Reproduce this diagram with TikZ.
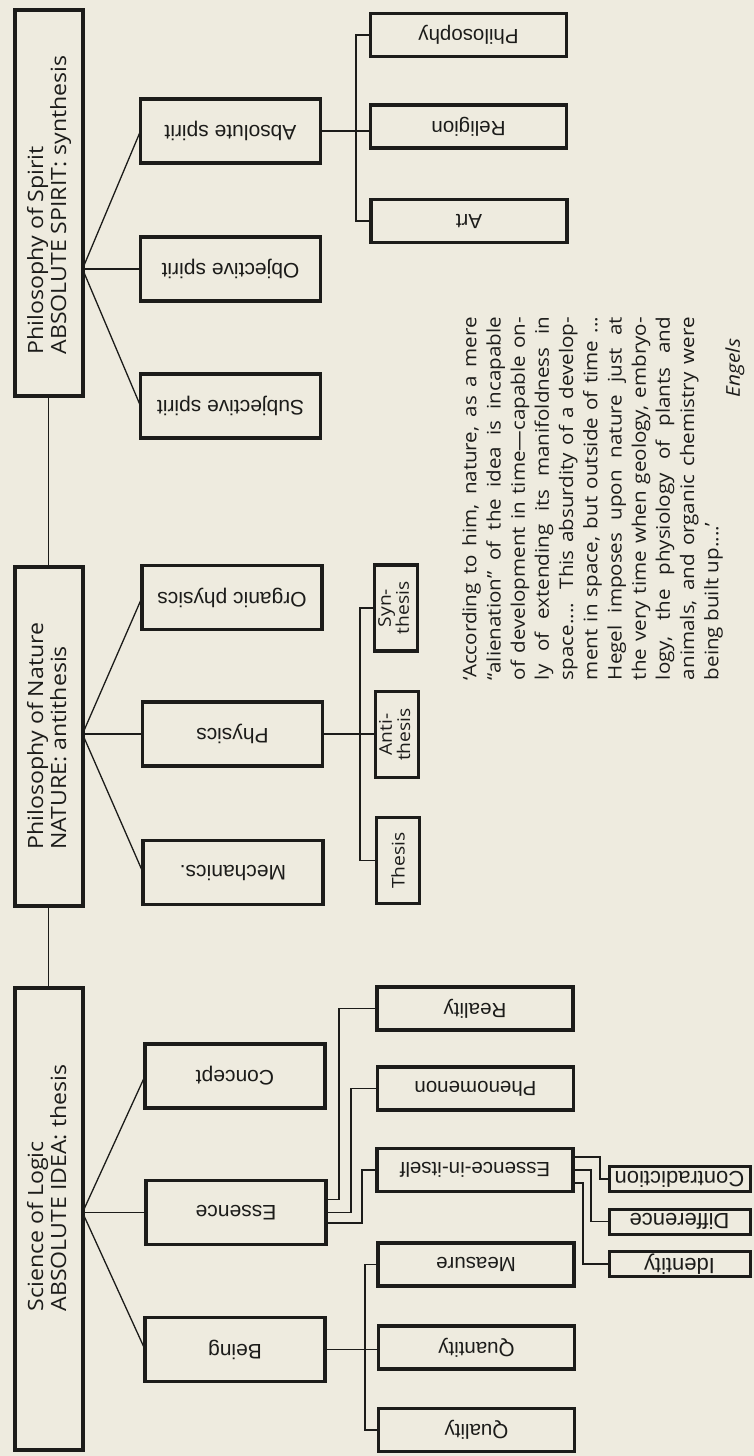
\documentclass[tikz,border=0pt]{standalone}
\usepackage{fontspec}
\usepackage{graphicx}
\setmainfont{Open Sans}[FakeStretch=1.1]
\newfontfamily\labelfont{Liberation Sans}
\definecolor{paper}{HTML}{EEEBDF}
\definecolor{ink}{HTML}{1C1C1A}

\begin{document}
\begin{tikzpicture}[x=1pt,y=-1pt,
  every node/.style={inner sep=0pt, outer sep=0pt, text=ink},
  topbox/.style={draw=ink, line width=4pt, minimum width=68pt},
  toptext/.style={font=\fontsize{21}{23}\selectfont},
  subbox/.style={draw=ink, line width=3.6pt, minimum width=180pt, minimum height=64pt,
    font=\labelfont\fontsize{21}{23}\selectfont},
  leafbox/.style={draw=ink, line width=3.4pt, minimum width=196pt, minimum height=43pt,
    font=\labelfont\fontsize{20.5}{23}\selectfont},
  triadbox/.style={draw=ink, line width=3.2pt, minimum width=43pt, minimum height=86pt,
    font=\fontsize{17.5}{16}\selectfont},
  tinybox/.style={draw=ink, line width=3pt, minimum width=141pt, minimum height=25pt,
    font=\labelfont\fontsize{22}{24}\selectfont},
  link/.style={draw=ink, line width=1.3pt},
]
% page
\fill[paper] (0,0) rectangle (754,1456);
\useasboundingbox (0,0) rectangle (754,1456);

% ---- the three main divisions ----
\node[topbox, minimum height=386pt] (spirit) at (48.5,203) {};
\node[topbox, minimum height=339pt] (nature) at (48.5,736.5) {};
\node[topbox, minimum height=462pt] (logic) at (48.5,1219) {};
\node[toptext] (spirittext) at (50,205)
  {\rotatebox{90}{\begin{tabular}{@{}l@{}}Philosophy of Spirit\\ABSOLUTE SPIRIT: synthesis\end{tabular}}};
\node[toptext] (naturetext) at (50,736)
  {\rotatebox{90}{\begin{tabular}{@{}l@{}}Philosophy of Nature\\NATURE: antithesis\end{tabular}}};
\node[toptext] (logictext) at (50,1188)
  {\rotatebox{90}{\begin{tabular}{@{}l@{}}Science of Logic\\ABSOLUTE IDEA: thesis\end{tabular}}};

\draw[link] (spirit.south) -- (nature.north);
\draw[link] (nature.south) -- (logic.north);

% ---- spirit ----
\node[subbox] (absolute) at (230.5,131) {\rotatebox{180}{Absolute spirit}};
\node[subbox] (objective) at (230.5,269) {\rotatebox{180}{Objective spirit}};
\node[subbox] (subjective) at (230.5,406) {\rotatebox{180}{Subjective spirit}};
\node[leafbox] (philosophy) at (468.5,35) {\rotatebox{180}{Philosophy}};
\node[leafbox] (religion) at (468.5,126.5) {\rotatebox{180}{Religion}};
\node[leafbox] (art) at (469,221) {\rotatebox{180}{Art}};

\coordinate (spiritfan) at (spirit.east |- objective.west);
\draw[link] (absolute.west) -- (spiritfan) -- (subjective.west);
\draw[link] (spiritfan) -- (objective.west);
\coordinate (spiritbus) at (356,0);
\draw[link] (absolute.east) -- (religion.west |- absolute.east);
\draw[link] (philosophy.west) -- (philosophy.west -| spiritbus)
  -- (art.west -| spiritbus) -- (art.west);

% ---- nature ----
\node[subbox] (organic) at (232,597.5) {\rotatebox{180}{Organic physics}};
\node[subbox] (physics) at (232.5,734) {\rotatebox{180}{Physics}};
\node[subbox] (mechanics) at (233,872.5) {\rotatebox{180}{Mechanics.}};
\node[triadbox] (synthesis) at (396,608)
  {\rotatebox{90}{\begin{tabular}{@{}c@{}}Syn-\\thesis\end{tabular}}};
\node[triadbox] (antithesis) at (397,734.5)
  {\rotatebox{90}{\begin{tabular}{@{}c@{}}Anti-\\thesis\end{tabular}}};
\node[triadbox] (thesis) at (398,860.5) {\rotatebox{90}{Thesis}};

\coordinate (naturefan) at (nature.east |- physics.west);
\draw[link] (organic.west) -- (naturefan) -- (mechanics.west);
\draw[link] (naturefan) -- (physics.west);
\coordinate (naturebus) at (360,0);
\draw[link] (physics.east) -- (antithesis.west |- physics.east);
\draw[link] (synthesis.west) -- (synthesis.west -| naturebus)
  -- (thesis.west -| naturebus) -- (thesis.west);

% ---- logic ----
\node[subbox] (concept) at (235,1076) {\rotatebox{180}{Concept}};
\node[subbox] (essence) at (236,1212.5) {\rotatebox{180}{Essence}};
\node[subbox] (being) at (235,1349.5) {\rotatebox{180}{Being}};
\node[leafbox] (reality) at (475,1008.5) {\rotatebox{180}{Reality}};
\node[leafbox] (phenomenon) at (475.5,1088.5) {\rotatebox{180}{Phenomenon}};
\node[leafbox] (initself) at (475,1170) {\rotatebox{180}{Essence-in-itself}};
\node[leafbox] (measure) at (476,1264.5) {\rotatebox{180}{Measure}};
\node[leafbox] (quantity) at (476.5,1347.5) {\rotatebox{180}{Quantity}};
\node[leafbox] (quality) at (476.5,1430) {\rotatebox{180}{Quality}};
\node[tinybox] (contradiction) at (679.5,1179) {\rotatebox{180}{Contradiction}};
\node[tinybox] (difference) at (679.5,1221.5) {\rotatebox{180}{Difference}};
\node[tinybox] (identity) at (679.5,1264) {\rotatebox{180}{Identity}};

\coordinate (logicfan) at (logic.east |- essence.west);
\draw[link] (concept.west) -- (logicfan) -- (being.west);
\draw[link] (logicfan) -- (essence.west);

\draw[link] ([yshift=13pt]essence.east) -- ++(13,0) |- (reality.west);
\draw[link] (essence.east) -- ++(25,0) |- (phenomenon.west);
\draw[link] ([yshift=-10.5pt]essence.east) -- ++(36,0) |- (initself.west);

\coordinate (beingbus) at (365,0);
\draw[link] (being.east) -- (quantity.west |- being.east);
\draw[link] (measure.west) -- (measure.west -| beingbus)
  -- (quality.west -| beingbus) -- (quality.west);

\draw[link] ([yshift=13pt]initself.east) -- ++(27,0) |- (contradiction.west);
\draw[link] (initself.east) -- ++(18,0) |- (difference.west);
\draw[link] ([yshift=-13pt]initself.east) -- ++(10,0) |- (identity.west);

% ---- quotation ----
\node[font=\fontsize{18.7}{24.2}\selectfont] (quote) at (592.5,498.5)
  {\rotatebox{90}{\begin{minipage}{363pt}\setlength{\parindent}{0pt}%
\makebox[\linewidth][s]{‘According to him, nature, as a mere}\\
\makebox[\linewidth][s]{“alienation” of the idea is incapable}\\
\makebox[\linewidth][s]{of development in time---capable on-}\\
\makebox[\linewidth][s]{ly of extending its manifoldness in}\\
\makebox[\linewidth][s]{space.... This absurdity of a develop-}\\
\makebox[\linewidth][s]{ment in space, but outside of time ...}\\
\makebox[\linewidth][s]{Hegel imposes upon nature just at}\\
\makebox[\linewidth][s]{the very time when geology, embryo-}\\
\makebox[\linewidth][s]{logy, the physiology of plants and}\\
\makebox[\linewidth][s]{animals, and organic chemistry were}\\
\makebox[\linewidth][l]{being built up....’}
\end{minipage}}};
\node[font=\itshape\fontsize{19}{22}\selectfont] (engels) at (735,368) {\rotatebox{90}{Engels}};
\end{tikzpicture}
\end{document}
